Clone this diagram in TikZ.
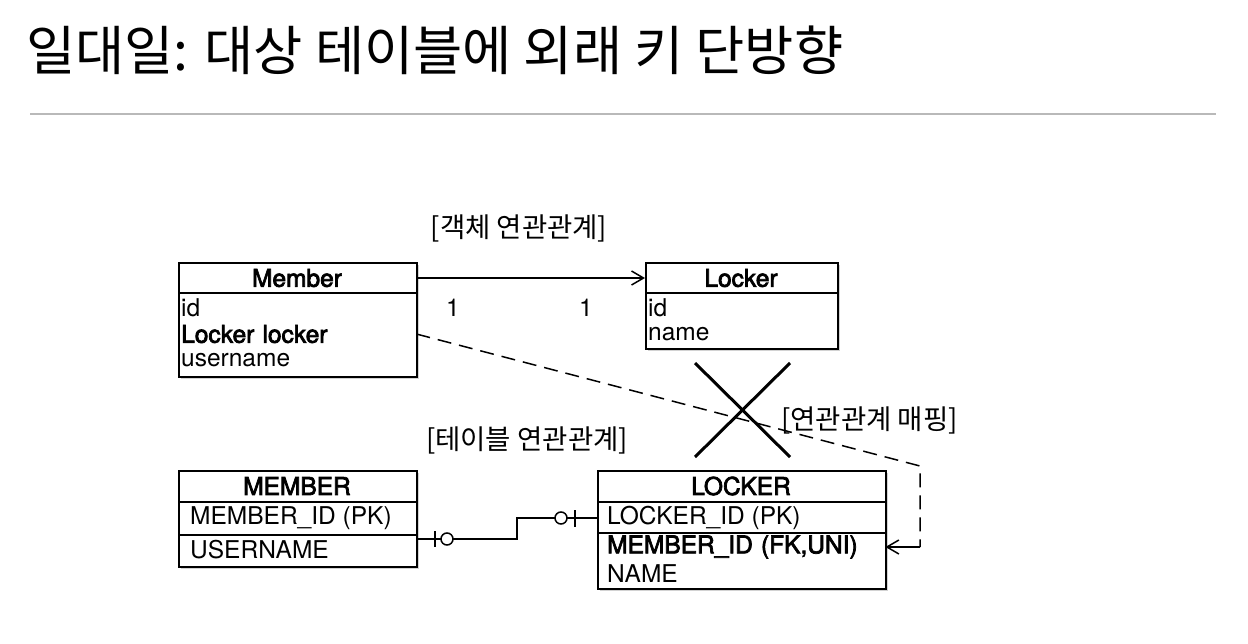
\documentclass[tikz,border=0pt]{standalone}
\usepackage{fontspec}
\setmainfont{TeX Gyre Heros}
\newfontfamily\semib[FakeBold=3]{TeX Gyre Heros}
\newfontfamily\kr{Noto Sans CJK KR}
\usetikzlibrary{arrows.meta,shadows}
\tikzset{
  tbox/.style={draw=black,line width=1.8pt,fill=white,rectangle,anchor=north west,inner sep=0pt,
     drop shadow={shadow xshift=2pt,shadow yshift=-2.5pt,opacity=0.35}},
  hdr/.style={font=\semib\fontsize{24.5}{24.5}\selectfont,inner sep=0pt,anchor=center},
  rowtxt/.style={font=\fontsize{24.5}{24.5}\selectfont,inner sep=0pt,anchor=west},
  boldrow/.style={font=\semib\fontsize{24.5}{24.5}\selectfont},
  krlabel/.style={font=\kr\fontsize{27.5}{27.5}\selectfont,inner sep=0pt},
  divider/.style={line width=1.8pt},
  conn/.style={line width=1.5pt},
  barb/.style={-{Straight Barb[length=12pt,width=14pt,line width=1.5pt]}},
  dline/.style={line width=1.5pt,dash pattern=on 14pt off 8pt},
}
\begin{document}
\begin{tikzpicture}[x=1pt,y=-1pt]
\useasboundingbox[fill=white] (0,0) rectangle (1248,643);
% title
\node[anchor=west,inner sep=0pt,font=\kr\fontsize{53.5}{53.5}\selectfont] (title) at (26,50) {일대일: 대상 테이블에 외래 키 단방향};
\draw[gray!55,line width=1.2pt] (30,114) -- (1216,114);

% ---- object diagram ----
\node[tbox,minimum width=238pt,minimum height=114pt] (member) at (178,262) {};
\node[hdr] (memberH) at (297,278) {Member};
\draw[divider] (178,293) -- (416,293);
\node[rowtxt] (mId) at (181,308) {id};
\node[rowtxt,boldrow,text width=235pt] (mLocker) at (181,334) {Locker locker};
\node[rowtxt] (mUser) at (181,360) {username};

\node[tbox,minimum width=192pt,minimum height=86pt] (locker) at (645,262) {};
\node[hdr] (lockerH) at (741,278) {Locker};
\draw[divider] (645,293) -- (837,293);
\node[rowtxt] (lId) at (648,308) {id};
\node[rowtxt] (lName) at (648,334) {name};

\draw[conn,barb] (member.east |- 0,278) -- (locker.west |- 0,278);
\node[rowtxt,anchor=center] (one1) at (453,308) {1};
\node[rowtxt,anchor=center] (one2) at (586,308) {1};
\node[krlabel] (objLbl) at (519,228) {[객체 연관관계]};

% ---- table diagram ----
\node[tbox,minimum width=238pt,minimum height=96pt] (MEMBER) at (178,470) {};
\node[hdr] (MEMBERH) at (297,486) {MEMBER};
\draw[divider] (178,502) -- (416,502);
\node[rowtxt] (MPk) at (190,518) {MEMBER\_ID (PK)};
\draw[divider] (178,535) -- (416,535);
\node[rowtxt,text width=226pt] (MUser) at (190,550) {USERNAME};

\node[tbox,minimum width=288pt,minimum height=118pt] (LOCKER) at (597,470) {};
\node[hdr] (LOCKERH) at (741,486) {LOCKER};
\draw[divider] (597,502) -- (885,502);
\node[rowtxt] (LPk) at (607,518) {LOCKER\_ID (PK)};
\draw[divider] (597,533) -- (885,533);
\node[rowtxt,boldrow,text width=278pt] (LFk) at (607,547) {MEMBER\_ID (FK,UNI)};
\node[rowtxt] (LName) at (607,574) {NAME};

\node[krlabel] (tblLbl) at (527,440) {[테이블 연관관계]};

% relationship line with markers
\coordinate (mEnd) at (416,539);
\coordinate (lEnd) at (597,518);
\draw[conn] (mEnd) -- (517,539) -- (517,518) -- (lEnd);
\draw[conn] (435,531) -- (435,547);
\node[draw,circle,conn,fill=white,minimum size=12pt,inner sep=0pt] (c1) at (447,539) {};
\node[draw,circle,conn,fill=white,minimum size=12pt,inner sep=0pt] (c2) at (561,518) {};
\draw[conn] (575,510) -- (575,527);

% dashed mapping line
\coordinate (dCorner) at (920,466);
\draw[dline] (mLocker.east) -- (dCorner) -- (920,547);
\draw[conn,barb] (920,547) -- (LFk.east);

% X cross
\draw[line width=3pt] (695,363) -- (790,457);
\draw[line width=3pt] (790,363) -- (695,457);
\node[krlabel,anchor=west] (mapLbl) at (781,420) {[연관관계 매핑]};
\end{tikzpicture}
\end{document}
